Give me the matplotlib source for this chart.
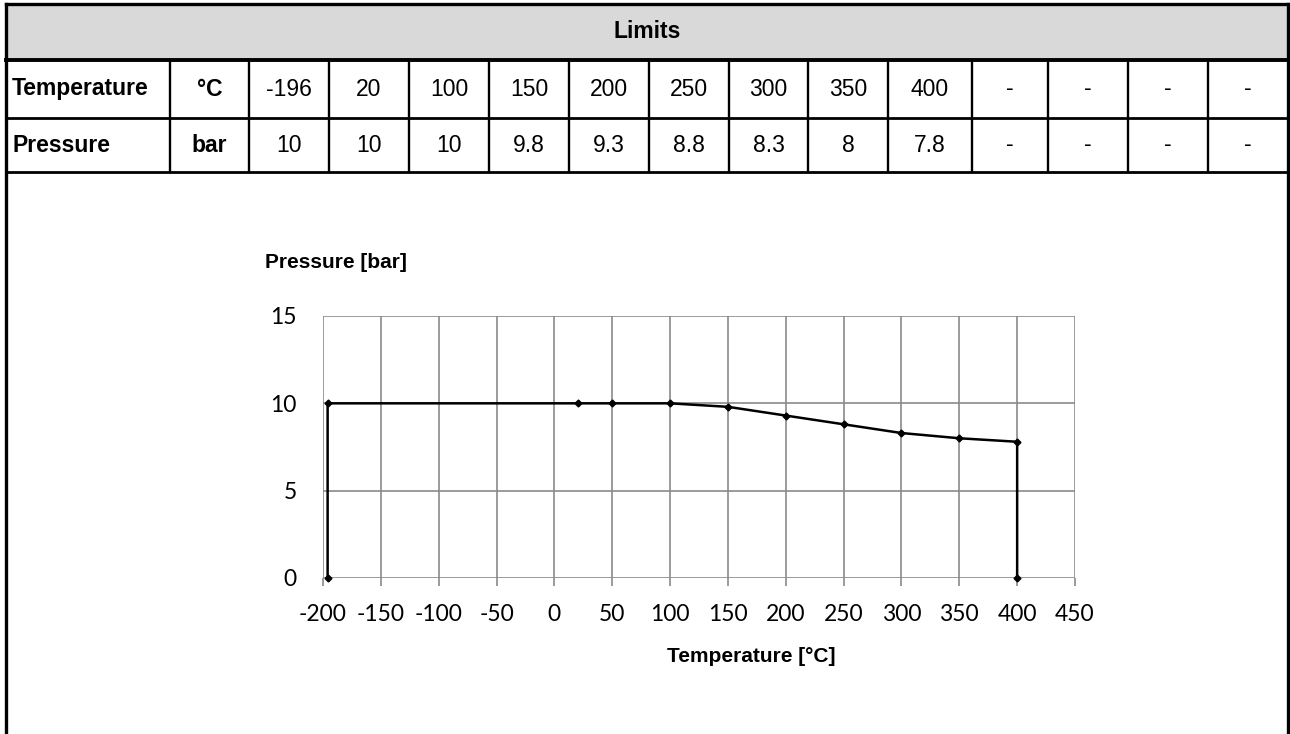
"""Limits table with the pressure/temperature curve below it."""

import matplotlib
matplotlib.use("Agg")
import matplotlib.pyplot as plt
from matplotlib.patches import Rectangle

# Table contents
TABLE_TITLE = "Limits"
ROW_LABELS = ["Temperature", "Pressure"]
ROW_UNITS = ["°C", "bar"]
TABLE_TEMPS = ["-196", "20", "100", "150", "200", "250", "300", "350", "400",
               "-", "-", "-", "-"]
TABLE_PRESS = ["10", "10", "10", "9.8", "9.3", "8.8", "8.3", "8", "7.8",
               "-", "-", "-", "-"]

# Curve in the chart
CURVE_T = [-196, -196, 20, 50, 100, 150, 200, 250, 300, 350, 400, 400]
CURVE_P = [0, 10, 10, 10, 10, 9.8, 9.3, 8.8, 8.3, 8, 7.8, 0]

X_TICKS = list(range(-200, 451, 50))
Y_TICKS = [0, 5, 10, 15]

W, H = 1290, 734
INK = "#000000"
GRID = "#8a8a8a"
HEADER_BG = "#d9d9d9"

TABLE_FONT = "Liberation Sans"
TICK_FONT = "Lato"
FS_TABLE = 16.5
FS_LABEL = 15
FS_TICK = 16.5

# Layout of the table grid (pixels)
COL_EDGES = [5.5, 170, 249, 329, 409, 489, 569, 649, 729, 808, 888, 972,
             1048, 1128, 1208, 1288]
ROW_EDGES = [3.5, 60, 118, 172]

plt.rcParams["axes.unicode_minus"] = False

fig = plt.figure(figsize=(W / 100, H / 100), dpi=100)
fig.patch.set_facecolor("white")

# ---- table, drawn on a full-figure pixel axes ----
tab = fig.add_axes([0, 0, 1, 1])
tab.set_xlim(0, W)
tab.set_ylim(H, 0)
tab.axis("off")

left, right = COL_EDGES[0], COL_EDGES[-1]
tab.add_patch(Rectangle((left, ROW_EDGES[0]), right - left,
                        ROW_EDGES[1] - ROW_EDGES[0], facecolor=HEADER_BG,
                        edgecolor="none", zorder=0))
tab.text((left + right) / 2, (ROW_EDGES[0] + ROW_EDGES[1]) / 2, TABLE_TITLE,
         ha="center", va="center", fontsize=FS_TABLE, fontweight="bold",
         family=TABLE_FONT, color=INK)

# outer frame: top plus both sides running to the bottom of the picture
tab.plot([left, right], [ROW_EDGES[0], ROW_EDGES[0]], color=INK, lw=2.4,
         solid_capstyle="projecting")
tab.plot([left, left], [ROW_EDGES[0], H], color=INK, lw=2.4)
tab.plot([right, right], [ROW_EDGES[0], H], color=INK, lw=2.4)
tab.plot([left, right], [ROW_EDGES[1], ROW_EDGES[1]], color=INK, lw=2.8)
for y in ROW_EDGES[2:]:
    tab.plot([left, right], [y, y], color=INK, lw=2.0)
for x in COL_EDGES[1:-1]:
    tab.plot([x, x], [ROW_EDGES[1], ROW_EDGES[-1]], color=INK, lw=1.7)

rows = [(ROW_LABELS[0], ROW_UNITS[0], TABLE_TEMPS),
        (ROW_LABELS[1], ROW_UNITS[1], TABLE_PRESS)]
for r, (label, unit, values) in enumerate(rows):
    yc = (ROW_EDGES[r + 1] + ROW_EDGES[r + 2]) / 2
    tab.text(COL_EDGES[0] + 6.5, yc, label, ha="left", va="center",
             fontsize=FS_TABLE, fontweight="bold", family=TABLE_FONT, color=INK)
    tab.text((COL_EDGES[1] + COL_EDGES[2]) / 2, yc, unit, ha="center",
             va="center", fontsize=FS_TABLE, fontweight="bold",
             family=TABLE_FONT, color=INK)
    for i, v in enumerate(values):
        xc = (COL_EDGES[i + 2] + COL_EDGES[i + 3]) / 2
        tab.text(xc, yc, v, ha="center", va="center", fontsize=FS_TABLE,
                 family=TABLE_FONT, color=INK)

# ---- chart ----
ax = fig.add_axes([323 / W, 1 - 578 / H, (1075 - 323) / W, (578 - 316) / H])
ax.set_facecolor("none")
ax.plot(CURVE_T, CURVE_P, color=INK, lw=1.8, marker="D", markersize=3.5,
        zorder=3, clip_on=False)
ax.set_xlim(-200, 450)
ax.set_ylim(0, 15)
ax.set_xticks(X_TICKS)
ax.set_yticks(Y_TICKS)
ax.grid(True, color=GRID, lw=1.2)
ax.set_axisbelow(True)
for s in ax.spines.values():
    s.set_visible(False)
ax.tick_params(axis="x", length=6, width=1.2, color=GRID, pad=13,
               labelsize=FS_TICK, labelcolor=INK)
ax.tick_params(axis="y", length=0, pad=19, labelsize=FS_TICK, labelcolor=INK)
for lab in ax.get_xticklabels() + ax.get_yticklabels():
    lab.set_family(TICK_FONT)

fig.text(265 / W, 1 - 263 / H, "Pressure [bar]", ha="left", va="center",
         fontsize=FS_LABEL, fontweight="bold", family=TABLE_FONT, color=INK)
fig.text(751 / W, 1 - 656 / H, "Temperature [°C]", ha="center", va="center",
         fontsize=FS_LABEL, fontweight="bold", family=TABLE_FONT, color=INK)

fig.savefig("out.png", dpi=100, facecolor="white")
